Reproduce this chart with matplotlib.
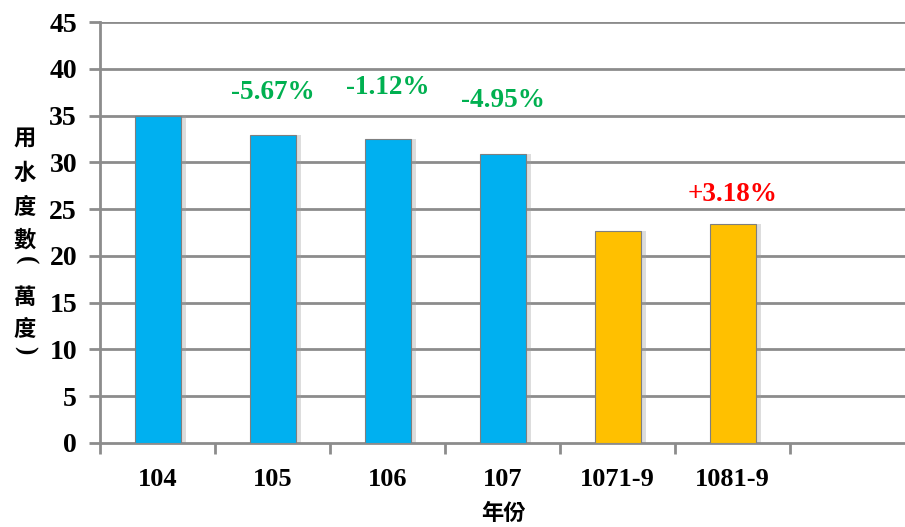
import matplotlib
matplotlib.use("Agg")
import matplotlib.pyplot as plt

categories = ["104", "105", "106", "107", "1071-9", "1081-9"]
values = [34.9, 32.9, 32.5, 30.9, 22.7, 23.4]
colors = ["#00B0F0", "#00B0F0", "#00B0F0", "#00B0F0", "#FFC000", "#FFC000"]
changes = ["", "-5.67%", "-1.12%", "-4.95%", "", "+3.18%"]
change_colors = ["", "#00B050", "#00B050", "#00B050", "", "#FF0000"]
change_y = [0, 37.5, 38.0, 36.6, 0, 26.6]
yticks = [0, 5, 10, 15, 20, 25, 30, 35, 40, 45]
ylabel_chars = ["用", "水", "度", "數", "(", "萬", "度", ")"]
ylabel_pix_y = [138, 173, 208, 240, 260, 297, 330, 350]

fig = plt.figure(figsize=(9.05, 5.27), dpi=100)
ax = fig.add_axes([100/905, 1-443/527, 1-100/905, (443-22)/527])

serif = ["Liberation Serif", "DejaVu Serif"]
grid_c = "#8C8C8C"

for y in yticks[1:]:
    ax.axhline(y, color=grid_c, lw=2, zorder=1)

x = list(range(len(categories)))
# soft shadow
ax.bar([i + 0.045 for i in x], values, width=0.4, color="#A0A0A0", alpha=0.35, zorder=2, linewidth=0)
ax.bar(x, values, width=0.4, color=colors, edgecolor="#7F7F7F", linewidth=0.8, zorder=3)

for i, (t, c, yy) in enumerate(zip(changes, change_colors, change_y)):
    if t:
        ax.text(i, yy, t, color=c, ha="center", va="center", fontsize=19.5,
                fontweight="bold", family=serif, zorder=4)

ax.set_xlim(-0.5, 6.5)
ax.set_ylim(0, 45)
ax.set_yticks(yticks)
ax.set_yticklabels([str(v) for v in yticks], family=serif, fontsize=20, fontweight="bold")
ax.set_xticks([i - 0.5 for i in range(7)])
ax.set_xticklabels([])
ax.set_xticks(x, minor=True)
ax.set_xticklabels(categories, minor=True, family=serif, fontsize=19, fontweight="bold")
ax.tick_params(axis="x", which="minor", length=0, pad=18)
ax.tick_params(axis="x", which="major", length=8, width=2, color=grid_c, direction="out")
ax.tick_params(axis="y", length=8, width=2, color=grid_c, direction="out", pad=8.5)

for s in ["top", "right"]:
    ax.spines[s].set_visible(False)
ax.spines["left"].set_color(grid_c)
ax.spines["left"].set_linewidth(2)
ax.spines["bottom"].set_color(grid_c)
ax.spines["bottom"].set_linewidth(2)

cjk = ["Noto Sans CJK TC", "DejaVu Sans"]
for ch, py in zip(ylabel_chars, ylabel_pix_y):
    if ch in "()":
        fig.text(25/905, 1-py/527, ch, ha="center", va="center", rotation=-90,
                 rotation_mode="anchor", fontsize=18, fontweight="bold", family=serif)
    else:
        fig.text(25/905, 1-py/527, ch, ha="center", va="center",
                 fontsize=16, fontweight="bold", family=cjk)
fig.text(503/905, 1-513/527, "年份", ha="center", va="center",
         fontsize=16, fontweight="bold", family=cjk)

fig.savefig("out.png", dpi=100)
